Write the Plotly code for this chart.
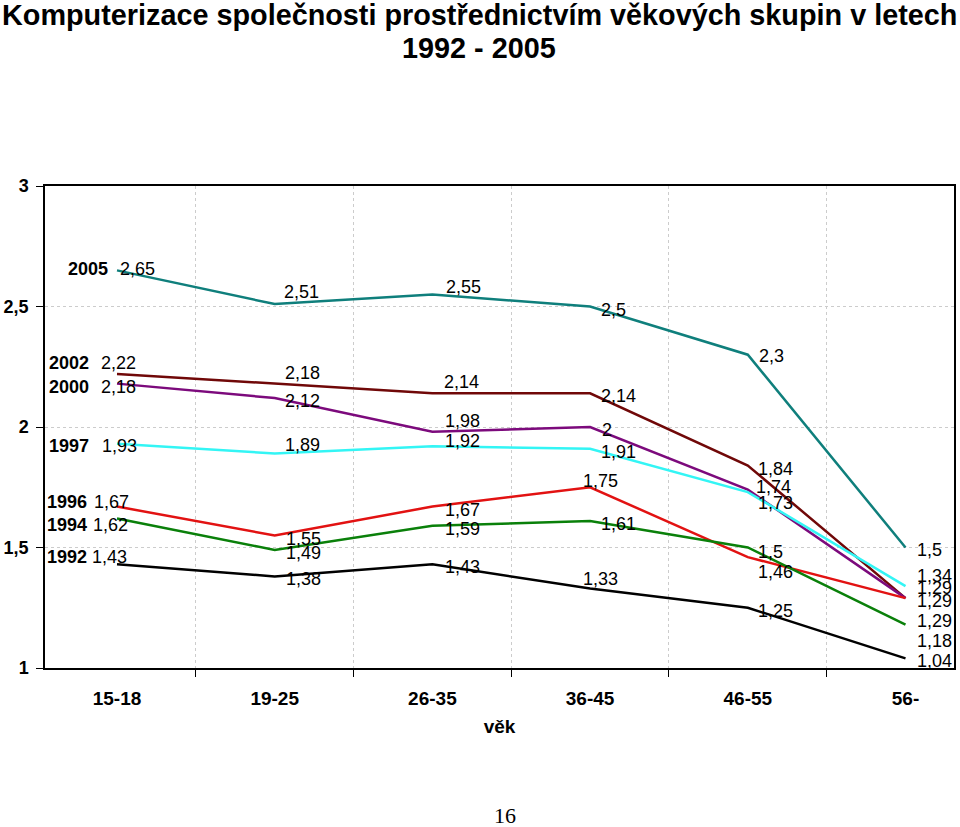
import plotly.graph_objects as go

categories = ["15-18", "19-25", "26-35", "36-45", "46-55", "56-"]
years = ["2005", "2002", "2000", "1997", "1996", "1994", "1992"]
v2005 = [2.65, 2.51, 2.55, 2.50, 2.30, 1.50]
v2002 = [2.22, 2.18, 2.14, 2.14, 1.84, 1.29]
v2000 = [2.18, 2.12, 1.98, 2.00, 1.74, 1.29]
v1997 = [1.93, 1.89, 1.92, 1.91, 1.73, 1.34]
v1996 = [1.67, 1.55, 1.67, 1.75, 1.46, 1.29]
v1994 = [1.62, 1.49, 1.59, 1.61, 1.50, 1.18]
v1992 = [1.43, 1.38, 1.43, 1.33, 1.25, 1.04]
series = [v2005, v2002, v2000, v1997, v1996, v1994, v1992]

title_lines = ["Komputerizace společnosti prostřednictvím věkových skupin v letech", "1992 - 2005"]

colors = ["#0F7F7C", "#700808", "#7C0A7C", "#33F5F5", "#E21212", "#0A800A", "#000000"]

# label offsets (dx px, dy px upward) per series/point  -- styling only
offsets = [
    [(20, 2), (27, 13), (31, 8), (23, -2), (24, 0), (24, -1)],
    [(1, 12), (28, 12), (29, 12), (28, -2), (28, -2), (29, -2)],
    [(1, -2), (28, -2), (30, 12), (17, -2), (26, 4), (29, 11)],
    [(2, -1), (28, 10), (30, 6), (28, -2), (28, -10), (29, 11)],
    [(-6, 6), (29, -3), (30, -2), (10, 7), (28, -14), (29, -22)],
    [(-7, -5), (29, -2), (30, -2), (28, -2), (23, -3), (29, -15)],
    [(-8, 8), (29, -2), (30, -2), (10, 10), (28, -2), (29, -2)],
]
year_dx = [-7, -26, -26, -26, -28, -28, -28]

def fmt(v):
    s = ("%.2f" % v).rstrip("0").rstrip(".")
    return s.replace(".", ",")

fig = go.Figure()
for name, vals, col in zip(years, series, colors):
    fig.add_trace(go.Scatter(x=categories, y=vals, mode="lines", name=name,
                             line=dict(color=col, width=2.5), showlegend=False))

ann = []
lab_font = dict(family="Liberation Sans, Arial", size=18, color="black")
for si, vals in enumerate(series):
    for pi, v in enumerate(vals):
        dx, dy = offsets[si][pi]
        ann.append(dict(x=categories[pi], y=v, xref="x", yref="y", text=fmt(v),
                        showarrow=False, xanchor="center", yanchor="middle",
                        xshift=dx, yshift=dy - 1, font=lab_font))
    dx0, dy0 = offsets[si][0]
    ann.append(dict(x=categories[0], y=vals[0], xref="x", yref="y",
                    text="<b>%s</b>" % years[si], showarrow=False,
                    xanchor="right", yanchor="middle", xshift=year_dx[si], yshift=dy0 - 1,
                    font=lab_font))

# title (two lines, paper coords: plot area spans x 43..956, y 186..668 px)
for line, ypx in zip(title_lines, [15, 48]):
    ann.append(dict(x=(479 - 43) / 913, y=(668 - ypx) / 482, xref="paper", yref="paper",
                    text="<b>%s</b>" % line, showarrow=False, xanchor="center", yanchor="middle",
                    font=dict(family="Liberation Sans, Arial", size=28.8, color="black")))
# page number
ann.append(dict(x=0.506, y=(668 - 815) / 482, xref="paper", yref="paper", text="16", showarrow=False,
                xanchor="center", yanchor="middle",
                font=dict(family="Liberation Serif, Times New Roman", size=22, color="black")))

fig.update_layout(
    width=960, height=827,
    margin=dict(l=43, r=4, t=186, b=159),
    paper_bgcolor="white", plot_bgcolor="white",
    separators=", ",
    font=dict(family="Liberation Sans, Arial", color="black"),
    annotations=ann,
    xaxis=dict(type="category", tickson="boundaries", showline=True, linecolor="black", linewidth=1.5,
               mirror=True, ticks="outside", ticklen=7, tickcolor="black",
               showgrid=True, gridcolor="#CCCCCC", griddash="dot", gridwidth=1,
               tickfont=dict(size=19), ticklabelstandoff=12,
               title=dict(text="<b>věk</b>", font=dict(size=19), standoff=12),
               tickprefix="<b>", ticksuffix="</b>"),
    yaxis=dict(range=[1, 3], dtick=0.5, showline=True, linecolor="black", linewidth=1.5,
               mirror=True, ticks="outside", ticklen=7, tickcolor="black",
               showgrid=True, gridcolor="#CCCCCC", griddash="dot", gridwidth=1,
               zeroline=False, tickfont=dict(size=18), ticklabelstandoff=4,
               tickprefix="<b>", ticksuffix="</b>"),
)

fig.write_html("out.html", config={"displayModeBar": False})

with open("out.html", "r", encoding="utf-8") as f:
    html = f.read()
html = html.replace("<body>", '<body style="margin:0;padding:0;overflow:hidden">', 1)
with open("out.html", "w", encoding="utf-8") as f:
    f.write(html)
